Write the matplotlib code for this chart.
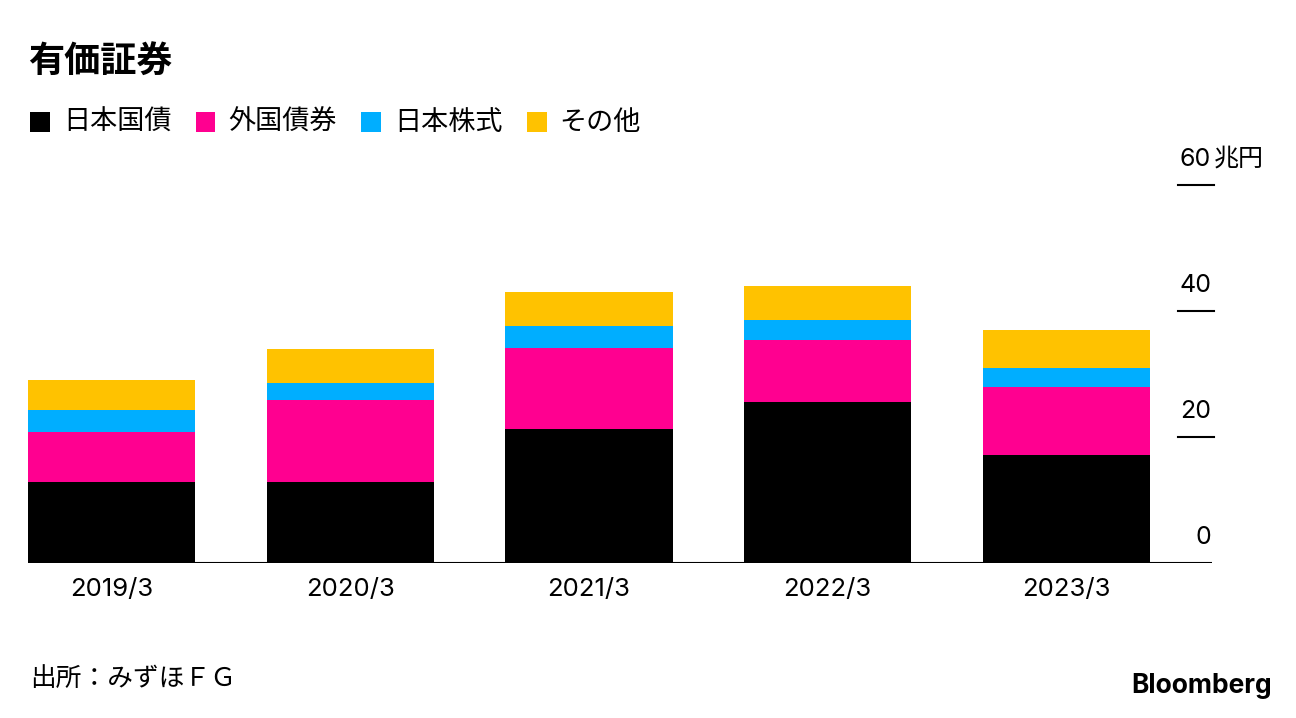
import matplotlib
matplotlib.use("Agg")
import matplotlib.pyplot as plt
import numpy as np

plt.rcParams['font.family'] = ['Inter', 'Noto Sans CJK JP', 'DejaVu Sans']

categories = ["2019/3", "2020/3", "2021/3", "2022/3", "2023/3"]
series_names = ["日本国債", "外国債券", "日本株式", "その他"]
jgb = [12.9, 12.9, 21.3, 25.6, 17.1]
foreign = [7.9, 13.0, 12.8, 9.8, 10.8]
jp_stock = [3.5, 2.7, 3.5, 3.2, 3.1]
other = [4.7, 5.4, 5.4, 5.4, 6.0]
colors = ["#000000", "#FF0090", "#00AEFF", "#FFC200"]
yticks = [0, 20, 40, 60]

W, H = 1296, 718
fig = plt.figure(figsize=(W / 100, H / 100), dpi=100)
ax = fig.add_axes([28 / W, (H - 563) / H, (1212 - 28) / W, (563 - 185) / H])

x = np.arange(len(categories))
bottom = np.zeros(len(categories))
for vals, col in zip([jgb, foreign, jp_stock, other], colors):
    ax.bar(x, vals, width=0.70, bottom=bottom, color=col, linewidth=0)
    bottom += np.array(vals)

ax.set_xlim(-0.35, 4.61)
ax.set_ylim(0, 60)
for s in ax.spines.values():
    s.set_visible(False)
ax.axhline(0, color="#000000", linewidth=1.5, zorder=5)
ax.set_yticks([])
ax.set_xticks(x)
ax.set_xticklabels(categories, fontsize=18.5)
ax.tick_params(axis='x', length=0, pad=11)

# right-side tick marks and labels
trans = ax.get_yaxis_transform()
x0 = (1178 - 28) / (1212 - 28)
x1 = (1214 - 28) / (1212 - 28)
for v in yticks:
    if v != 0:
        ax.plot([x0, x1], [v, v], transform=trans, color="#000000", linewidth=1.5, clip_on=False)
    ax.annotate(str(v), xy=(x1, v), xycoords=trans, xytext=(-2, 10), textcoords="offset points",
                ha="right", va="bottom", fontsize=18)
ax.annotate("兆円", xy=(x1, 60), xycoords=trans, xytext=(0, 10), textcoords="offset points",
            ha="left", va="bottom", fontsize=18, family=['Noto Sans CJK JP'])

# title
fig.text(28 / W, 1 - 62 / H, "有価証券", fontsize=26, fontweight="bold", va="center", ha="left",
         family=['Noto Sans CJK JP'])

# legend
lx = 30
for name, col in zip(series_names, colors):
    fig.patches.append(plt.Rectangle((lx / W, 1 - 132 / H), 20 / W, 20 / H, transform=fig.transFigure,
                                     color=col, linewidth=0))
    t = fig.text((lx + 33) / W, 1 - 122 / H, name, fontsize=19.5, va="center", ha="left",
                 family=['Noto Sans CJK JP'])
    fig.canvas.draw()
    bb = t.get_window_extent()
    lx = bb.x1 + 24

# source
fig.text(30 / W, 1 - 679 / H, "出所：みずほＦＧ", fontsize=18.5, va="center", ha="left",
         family=['Noto Sans CJK JP'])
fig.text(1272 / W, 1 - 686 / H, "Bloomberg", fontsize=19, fontweight="bold", va="center", ha="right",
         family=['Inter', 'DejaVu Sans'])

fig.savefig("out.png", dpi=100, facecolor="white")
